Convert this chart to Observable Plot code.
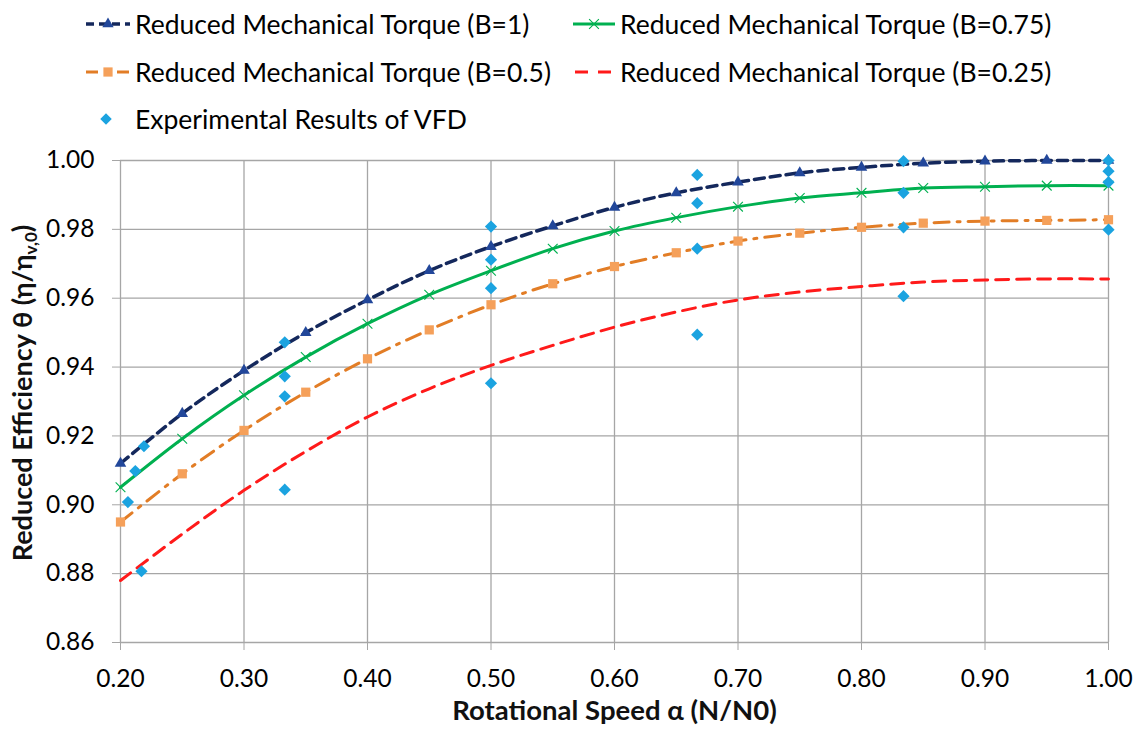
<!DOCTYPE html>
<html><head><meta charset="utf-8">
<script src="https://cdn.jsdelivr.net/npm/d3@7"></script>
<script src="https://cdn.jsdelivr.net/npm/@observablehq/plot@0.6"></script>
<style>
body{margin:0;background:#fff;font-family:Lato,"Open Sans",sans-serif;}
#legend{position:relative;height:140px;width:1140px;}
.item{position:absolute;height:32px;line-height:32px;font-size:26.5px;color:#000;white-space:nowrap;}
.item svg{position:absolute;left:0;top:6px;}
.item span{position:absolute;top:0;}
#chart svg{display:block;}
</style></head><body>
<div id="legend"></div>
<div id="chart"></div>
<script>
// ---- data ----
const alpha = [0.20,0.25,0.30,0.35,0.40,0.45,0.50,0.55,0.60,0.65,0.70,0.75,0.80,0.85,0.90,0.95,1.00];
const thetaB100 = [0.912,0.9265,0.939,0.950,0.9595,0.968,0.975,0.981,0.9864,0.9906,0.9937,0.9964,0.998,0.9992,0.9998,1.000,1.000];
const thetaB075 = [0.9051,0.9192,0.9318,0.9429,0.9526,0.961,0.968,0.9744,0.9795,0.9834,0.9866,0.9891,0.9906,0.992,0.9924,0.9927,0.9927];
const thetaB050 = [0.895,0.909,0.9216,0.9327,0.9424,0.9508,0.9581,0.9642,0.9692,0.9732,0.9766,0.9789,0.9806,0.9818,0.9824,0.9826,0.9828];
const thetaB025 = [0.878,0.8915,0.9042,0.9155,0.9255,0.9337,0.9405,0.9463,0.9516,0.956,0.9595,0.9618,0.9634,0.9647,0.9653,0.9656,0.9656];
const expAlpha = [0.219,0.212,0.206,0.217,0.333,0.333,0.333,0.333,0.500,0.500,0.500,0.500,0.667,0.667,0.667,0.667,0.834,0.834,0.834,0.834,1.000,1.000,1.000,1.000];
const expTheta = [0.917,0.9098,0.9008,0.8807,0.9472,0.9373,0.9315,0.9044,0.9808,0.9712,0.9629,0.9353,0.9958,0.9876,0.9744,0.9494,0.9998,0.9906,0.9806,0.9606,1.000,0.9969,0.9937,0.9799];
const xTicks = [0.2,0.3,0.4,0.5,0.6,0.7,0.8,0.9,1.0];
const yTicks = [0.86,0.88,0.90,0.92,0.94,0.96,0.98,1.00];
const seriesNames = ["Reduced Mechanical Torque (B=1)","Reduced Mechanical Torque (B=0.75)","Reduced Mechanical Torque (B=0.5)","Reduced Mechanical Torque (B=0.25)","Experimental Results of VFD"];
const xLabel = "Rotational Speed α (N/N0)";

// ---- styles ----
const C = {
  b100Line:"#14285c", b100Mark:"#22479a",
  b075:"#00b050",
  b050Line:"#e27d26", b050Mark:"#f5a05a",
  b025:"#ff1a1a",
  exp:"#1ba3e0"
};

const rows = ys => alpha.map((a,i)=>({a, t: ys[i]}));
const d100 = rows(thetaB100), d075 = rows(thetaB075), d050 = rows(thetaB050), d025 = rows(thetaB025);
const dexp = expAlpha.map((a,i)=>({a, t: expTheta[i]}));

const plot = Plot.plot({
  width:1140, height:593,
  marginLeft:120, marginRight:32, marginTop:20, marginBottom:91,
  style:{fontFamily:"Lato, 'Open Sans', sans-serif", fontSize:"24px", color:"#000", background:"#fff"},
  x:{domain:[0.2,1.0]},
  y:{domain:[0.86,1.0]},
  marks:[
    Plot.gridX(xTicks,{stroke:"#a6a6a6", strokeOpacity:1, strokeWidth:1.3}),
    Plot.gridY(yTicks,{stroke:"#a6a6a6", strokeOpacity:1, strokeWidth:1.3}),
    Plot.axisX(xTicks,{tickSize:8, tickPadding:19, stroke:"#a6a6a6", fill:"#000", tickFormat:d3.format(".2f"), label:null, fontSize:24.5}),
    Plot.axisY(yTicks,{tickSize:8, tickPadding:18, stroke:"#a6a6a6", fill:"#000", tickFormat:d3.format(".2f"), label:null, fontSize:24.5}),
    Plot.line(d025,{x:"a", y:"t", stroke:C.b025, strokeWidth:3, strokeDasharray:"13,8", curve:"catmull-rom"}),
    Plot.line(d050,{x:"a", y:"t", stroke:C.b050Line, strokeWidth:3, strokeDasharray:"15,8,3,8", curve:"catmull-rom"}),
    Plot.dot(d050,{x:"a", y:"t", symbol:"square", r:5.2, fill:C.b050Mark, stroke:"none"}),
    Plot.line(d075,{x:"a", y:"t", stroke:C.b075, strokeWidth:3, curve:"catmull-rom"}),
    Plot.dot(d075,{x:"a", y:"t", symbol:"times", r:4.5, stroke:C.b075, strokeWidth:1.1, fill:"none"}),
    Plot.line(d100,{x:"a", y:"t", stroke:C.b100Line, strokeWidth:3.5, strokeDasharray:"10,6", curve:"catmull-rom"}),
    Plot.dot(d100,{x:"a", y:"t", symbol:"triangle", r:4.3, fill:C.b100Mark, stroke:"none"}),
    Plot.dot(dexp,{x:"a", y:"t", symbol:"diamond2", r:5.5, fill:C.exp, stroke:"none"}),
    Plot.text([xLabel],{frameAnchor:"bottom", dy:77, text:d=>d, fontWeight:"bold", fontSize:27.5, fill:"#111"})
  ]
});
document.getElementById("chart").appendChild(plot);

// y-axis title with subscript
const svg = d3.select(plot);
const yl = svg.append("text")
  .attr("transform","translate(23,253) rotate(-90)")
  .attr("text-anchor","middle")
  .attr("dy","0.35em")
  .attr("font-weight","bold")
  .attr("font-size",27)
  .attr("fill","#111");
yl.append("tspan").text("Reduced Efficiency θ (η/η");
yl.append("tspan").attr("font-size",17).attr("dy",5).text("v,0");
yl.append("tspan").attr("dy",-5).text(")");

// ---- legend ----
const legend = d3.select("#legend");
function item(x, cy, sampleW, textX, name, draw){
  const div = legend.append("div").attr("class","item").style("left",x+"px").style("top",(cy-16)+"px");
  const s = div.append("svg").attr("width",sampleW).attr("height",20);
  draw(s, sampleW);
  div.append("span").style("left",(textX-x)+"px").text(name);
}
const sym = (type, size) => d3.symbol(type, size)();
item(84,24,48,135,seriesNames[0],(s,w)=>{
  s.append("line").attr("x1",2).attr("x2",w-2).attr("y1",10).attr("y2",10).attr("stroke",C.b100Line).attr("stroke-width",3.5).attr("stroke-dasharray","8,5");
  s.append("path").attr("d",sym(d3.symbolTriangle,56)).attr("transform",`translate(${w/2},10)`).attr("fill",C.b100Mark);
});
item(572,24,44,620,seriesNames[1],(s,w)=>{
  s.append("line").attr("x1",1).attr("x2",w-1).attr("y1",10).attr("y2",10).attr("stroke",C.b075).attr("stroke-width",3);
  s.append("path").attr("d",sym(d3.symbolTimes,64)).attr("transform",`translate(${w/2},10)`).attr("stroke",C.b075).attr("stroke-width",1.1).attr("fill","none");
});
item(84,72,48,135,seriesNames[2],(s,w)=>{
  s.append("line").attr("x1",2).attr("x2",w-2).attr("y1",10).attr("y2",10).attr("stroke",C.b050Line).attr("stroke-width",3).attr("stroke-dasharray","12,8,3,8");
  s.append("path").attr("d",sym(d3.symbolSquare,85)).attr("transform",`translate(${w/2},10)`).attr("fill",C.b050Mark);
});
item(572,72,44,620,seriesNames[3],(s,w)=>{
  s.append("line").attr("x1",3).attr("x2",w-3).attr("y1",10).attr("y2",10).attr("stroke",C.b025).attr("stroke-width",3).attr("stroke-dasharray","13,10");
});
item(84,119,48,135,seriesNames[4],(s,w)=>{
  s.append("path").attr("d",sym(d3.symbolDiamond2,85)).attr("transform",`translate(22,10)`).attr("fill",C.exp);
});
</script>
</body></html>
